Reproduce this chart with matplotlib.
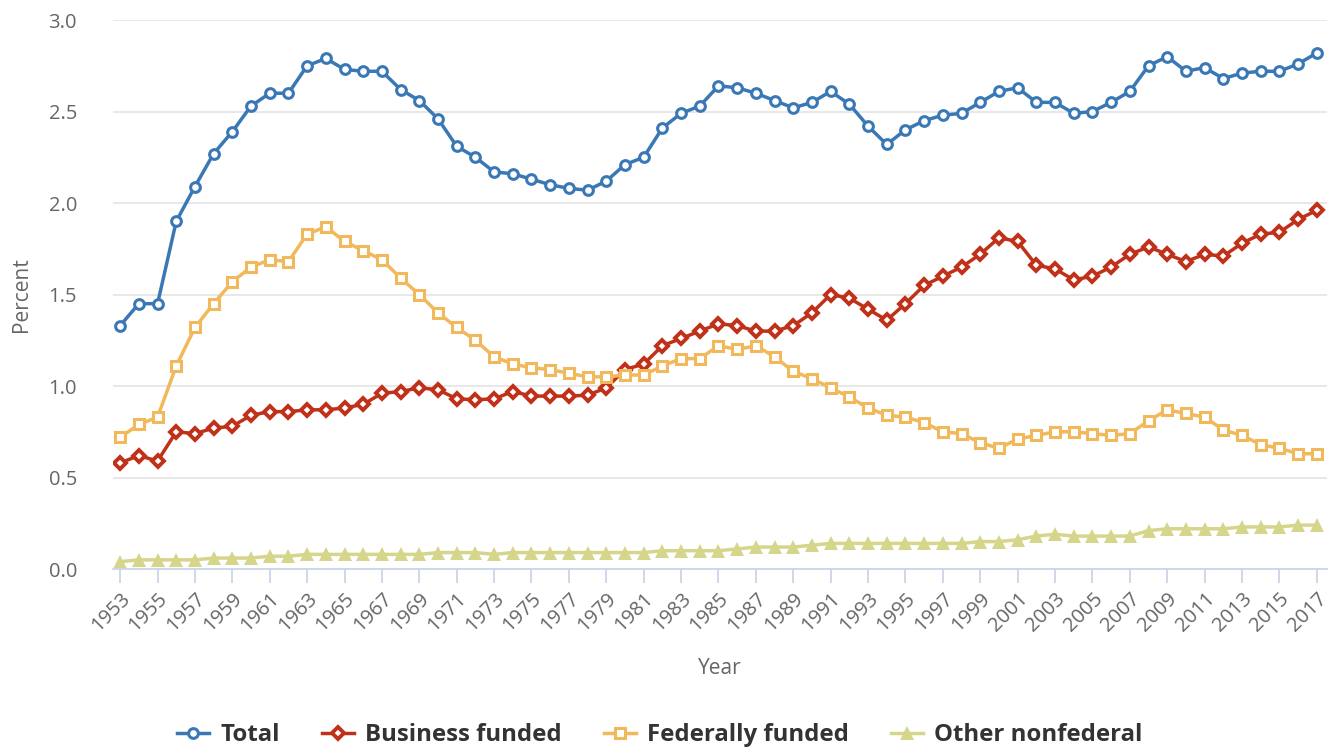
import matplotlib

matplotlib.use("Agg")
import matplotlib.pyplot as plt
import numpy as np

plt.rcParams["font.family"] = ["Open Sans", "DejaVu Sans"]

years = np.arange(1953, 2018)

total = [
    1.33, 1.45, 1.45, 1.90, 2.09, 2.27, 2.39, 2.53, 2.60, 2.60,
    2.75, 2.79, 2.73, 2.72, 2.72, 2.62, 2.56, 2.46, 2.31, 2.25,
    2.17, 2.16, 2.13, 2.10, 2.08, 2.07, 2.12, 2.21, 2.25, 2.41,
    2.49, 2.53, 2.64, 2.63, 2.60, 2.56, 2.52, 2.55, 2.61, 2.54,
    2.42, 2.32, 2.40, 2.45, 2.48, 2.49, 2.55, 2.61, 2.63, 2.55,
    2.55, 2.49, 2.50, 2.55, 2.61, 2.75, 2.80, 2.72, 2.74, 2.68,
    2.71, 2.72, 2.72, 2.76, 2.82,
]
business = [
    0.58, 0.62, 0.59, 0.75, 0.74, 0.77, 0.78, 0.84, 0.86, 0.86,
    0.87, 0.87, 0.88, 0.90, 0.96, 0.97, 0.99, 0.98, 0.93, 0.925,
    0.93, 0.97, 0.945, 0.945, 0.945, 0.95, 0.99, 1.09, 1.12, 1.22,
    1.26, 1.30, 1.34, 1.33, 1.30, 1.30, 1.33, 1.40, 1.50, 1.48,
    1.42, 1.36, 1.45, 1.55, 1.60, 1.65, 1.72, 1.81, 1.79, 1.66,
    1.64, 1.58, 1.60, 1.65, 1.72, 1.76, 1.72, 1.68, 1.72, 1.71,
    1.78, 1.83, 1.84, 1.91, 1.96,
]
federal = [
    0.72, 0.79, 0.83, 1.11, 1.32, 1.45, 1.57, 1.65, 1.69, 1.68,
    1.83, 1.87, 1.79, 1.74, 1.69, 1.59, 1.50, 1.40, 1.32, 1.25,
    1.16, 1.12, 1.10, 1.09, 1.07, 1.05, 1.05, 1.06, 1.06, 1.11,
    1.15, 1.15, 1.22, 1.20, 1.22, 1.16, 1.08, 1.04, 0.99, 0.94,
    0.88, 0.84, 0.83, 0.80, 0.75, 0.74, 0.69, 0.66, 0.71, 0.73,
    0.75, 0.75, 0.74, 0.73, 0.74, 0.81, 0.87, 0.85, 0.83, 0.76,
    0.73, 0.68, 0.66, 0.63, 0.63,
]
other = [
    0.04, 0.05, 0.05, 0.05, 0.05, 0.06, 0.06, 0.06, 0.07, 0.07,
    0.08, 0.08, 0.08, 0.08, 0.08, 0.08, 0.08, 0.09, 0.09, 0.09,
    0.08, 0.09, 0.09, 0.09, 0.09, 0.09, 0.09, 0.09, 0.09, 0.10,
    0.10, 0.10, 0.10, 0.11, 0.12, 0.12, 0.12, 0.13, 0.14, 0.14,
    0.14, 0.14, 0.14, 0.14, 0.14, 0.14, 0.15, 0.15, 0.16, 0.18,
    0.19, 0.18, 0.18, 0.18, 0.18, 0.21, 0.22, 0.22, 0.22, 0.22,
    0.23, 0.23, 0.23, 0.24, 0.24,
]

series = [
    ("Total", total, "#3a78b5", dict(marker="o", ms=7.0, mfc="white", mew=2.2)),
    ("Business funded", business, "#c0311a", dict(marker="D", ms=6.0, mfc="white", mew=2.8)),
    ("Federally funded", federal, "#f1b85c", dict(marker="s", ms=7.0, mfc="white", mew=2.2)),
    ("Other nonfederal", other, "#d5d68b", dict(marker="^", ms=9.5, mfc="#d5d68b", mew=0)),
]

fig = plt.figure(figsize=(13.3, 7.5), dpi=100)
ax = fig.add_axes([0.085, 0.2413, 0.9128, 0.732])

for name, vals, color, mk in series:
    ax.plot(years, vals, color=color, mec=color, linewidth=2.5, label=name, **mk)

ax.set_ylim(0, 3.0)
ax.set_xlim(1952.62, 2017.55)
ax.set_yticks(np.arange(0, 3.01, 0.5))
ax.set_yticklabels([f"{v:.1f}" for v in np.arange(0, 3.01, 0.5)])
ax.set_xticks(years[::2])
ax.set_xticklabels([str(y) for y in years[::2]], rotation=45, ha="right",
                   va="top", rotation_mode="anchor")

ax.grid(axis="y", color="#e6e6e6", linewidth=1.3)
ax.set_axisbelow(True)
for s in ["top", "right", "left"]:
    ax.spines[s].set_visible(False)
ax.spines["bottom"].set_color("#ccd6eb")
ax.spines["bottom"].set_linewidth(1.3)
ax.tick_params(axis="x", colors="#ccd6eb", length=10, width=1.3, labelcolor="#666666",
               labelsize=14.5, pad=4)
ax.tick_params(axis="y", length=0, labelcolor="#666666", labelsize=14.5, pad=26)

ax.set_xlabel("Year", color="#666666", fontsize=15, labelpad=16)
ax.set_ylabel("Percent", color="#666666", fontsize=15, labelpad=12)

leg = fig.legend(loc="center", bbox_to_anchor=(0.496, 0.02), ncol=4, frameon=False,
                 handlelength=1.35, handletextpad=0.45, columnspacing=1.75,
                 prop={"weight": "bold", "size": 17.3})
for t in leg.get_texts():
    t.set_color("#333333")

fig.savefig("out.png", dpi=100)
